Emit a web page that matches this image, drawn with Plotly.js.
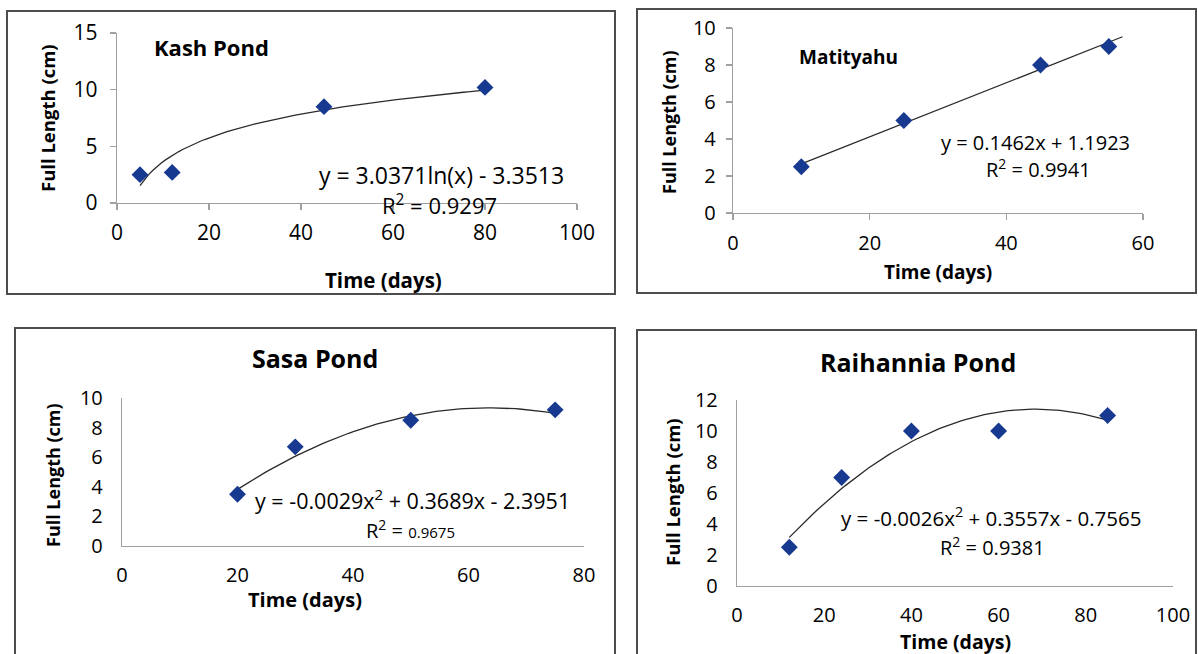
<!DOCTYPE html>
<html><head><meta charset="utf-8">
<script src="https://cdn.plot.ly/plotly-3.0.1.min.js"></script>
<style>html,body{margin:0;padding:0;background:#fff}#chart{width:1198px;height:654px}</style>
</head><body><div id="chart"></div>
<script>
// ---- data ----
const kashDays = [5, 12, 45, 80];
const kashLength = [2.5, 2.7, 8.5, 10.2];
const kashLogFit = [3.0371, -3.3513];      // y = a ln(x) + b
const kashFitRange = [5, 80];

const matDays = [10, 25, 45, 55];
const matLength = [2.5, 5, 8, 9];
const matLinFit = [0.1462, 1.1923];         // y = a x + b
const matFitRange = [10, 57];

const sasaDays = [20, 30, 50, 75];
const sasaLength = [3.5, 6.7, 8.5, 9.2];
const sasaQuadFit = [-0.0029, 0.3689, -2.3951]; // y = a x^2 + b x + c
const sasaFitRange = [20, 75];

const raiDays = [12, 24, 40, 60, 85];
const raiLength = [2.5, 7, 10, 10, 11];
const raiQuadFit = [-0.0026, 0.3557, -0.7565];
const raiFitRange = [12, 85];

const panelTitles = ["Kash Pond", "Matityahu", "Sasa Pond", "Raihannia Pond"];
const eqText = ["y = 3.0371ln(x) - 3.3513", "y = 0.1462x + 1.1923",
                "y = -0.0029x<sup>2</sup> + 0.3689x - 2.3951", "y = -0.0026x<sup>2</sup> + 0.3557x - 0.7565"];
const r2Text = ["R<sup>2</sup> = 0.9297", "R<sup>2</sup> = 0.9941",
                "R<sup>2</sup> = <span style='font-size:15px'>0.9675</span>", "R<sup>2</sup> = 0.9381"];
const xTitle = "Time (days)";
const yTitle = "Full Length (cm)";

// ---- helpers ----
const W = 1198, H = 654;
const px = v => v / W;
const py = v => 1 - v / H;
function curve(range, f) {
  const xs = [], ys = [];
  const n = 80;
  for (let i = 0; i <= n; i++) {
    const x = range[0] + (range[1] - range[0]) * i / n;
    xs.push(x); ys.push(f(x));
  }
  return {xs, ys};
}
const kashCurve = curve(kashFitRange, x => kashLogFit[0] * Math.log(x) + kashLogFit[1]);
const matCurve = curve(matFitRange, x => matLinFit[0] * x + matLinFit[1]);
const sasaCurve = curve(sasaFitRange, x => sasaQuadFit[0] * x * x + sasaQuadFit[1] * x + sasaQuadFit[2]);
const raiCurve = curve(raiFitRange, x => raiQuadFit[0] * x * x + raiQuadFit[1] * x + raiQuadFit[2]);

const markerStyle = {symbol: 'diamond', size: 13, color: '#17398f'};
const lineStyle = {color: '#2b2b2b', width: 1.3};
const FONT = 'Open Sans, Lato, sans-serif';

const traces = [];
const sets = [
  [kashDays, kashLength, kashCurve, 'x', 'y'],
  [matDays, matLength, matCurve, 'x2', 'y2'],
  [sasaDays, sasaLength, sasaCurve, 'x3', 'y3'],
  [raiDays, raiLength, raiCurve, 'x4', 'y4'],
];
sets.forEach(([dx, dy, c, xa, ya]) => {
  traces.push({x: c.xs, y: c.ys, mode: 'lines', line: lineStyle, xaxis: xa, yaxis: ya, hoverinfo: 'skip'});
  traces.push({x: dx, y: dy, mode: 'markers', marker: markerStyle, xaxis: xa, yaxis: ya});
});

function axis(domain, range, dtick, ticks, fsize, standoff, anchor) {
  return {
    domain: domain, range: range, dtick: dtick, tick0: 0,
    showgrid: false, zeroline: false, showline: true, linecolor: '#a0a0a0', linewidth: 1.2,
    ticks: ticks, ticklen: 6, tickcolor: '#a0a0a0', tickwidth: 1.2,
    tickfont: {family: FONT, size: fsize, color: '#000'}, ticklabelstandoff: standoff,
    anchor: anchor, fixedrange: true
  };
}

const layout = {
  width: W, height: H, margin: {l: 0, r: 0, t: 0, b: 0},
  paper_bgcolor: '#fff', plot_bgcolor: 'rgba(0,0,0,0)', showlegend: false,
  font: {family: FONT, color: '#000'},
  xaxis:  axis([px(117), px(577)], [0, 100], 20, 'outside', 21, 5, 'y'),
  yaxis:  axis([py(203), py(33)], [0, 15], 5, 'outside', 21, 8, 'x'),
  xaxis2: axis([px(733), px(1143)], [0, 60], 20, 'outside', 20, 6, 'y2'),
  yaxis2: axis([py(213), py(28)], [0, 10], 2, 'outside', 20, 6, 'x2'),
  xaxis3: axis([px(122), px(584)], [0, 80], 20, '', 20, 11, 'y3'),
  yaxis3: axis([py(546), py(398)], [0, 10], 2, '', 20, 14, 'x3'),
  xaxis4: axis([px(737), px(1173)], [0, 100], 20, '', 20, 11, 'y4'),
  yaxis4: axis([py(586), py(400)], [0, 12], 2, '', 20, 14, 'x4'),
  shapes: [
    [7, 11, 615, 294], [637, 9, 1196, 293], [15, 328, 615, 700], [637, 330, 1196, 700]
  ].map(b => ({type: 'rect', xref: 'paper', yref: 'paper',
    x0: px(b[0]), x1: px(b[2]), y0: py(b[3]), y1: py(b[1]),
    line: {color: '#4d4d4d', width: 2}, fillcolor: 'rgba(0,0,0,0)', layer: 'below'})),
  annotations: []
};

function ann(text, x, y, size, bold, extra) {
  layout.annotations.push(Object.assign({
    text: bold ? '<b>' + text + '</b>' : text, xref: 'paper', yref: 'paper',
    x: px(x), y: py(y), xanchor: 'center', yanchor: 'middle', showarrow: false,
    font: {family: FONT, size: size, color: '#000'}
  }, extra || {}));
}
// panel titles
ann(panelTitles[0], 152, 47, 22, true, {xanchor: 'left'});
ann(panelTitles[1], 797, 57, 19, true, {xanchor: 'left'});
ann(panelTitles[2], 315, 358, 25, true);
ann(panelTitles[3], 918, 362, 25, true);
// equations
ann(eqText[0], 441, 175, 23, false);
ann(r2Text[0], 440, 204, 22, false);
ann(eqText[1], 1035, 142, 20, false);
ann(r2Text[1], 1038, 169, 20, false);
ann(eqText[2], 412, 499, 21.5, false);
ann(r2Text[2], 410, 529, 20, false);
ann(eqText[3], 991, 517, 20.5, false);
ann(r2Text[3], 992, 546, 20, false);
// axis titles
ann(xTitle, 383, 280, 20.5, true);
ann(yTitle, 47, 118, 18.5, true, {textangle: -90});
ann(xTitle, 938, 272, 19, true);
ann(yTitle, 669, 122, 18, true, {textangle: -90});
ann(xTitle, 305, 599, 20, true);
ann(yTitle, 53, 475, 18, true, {textangle: -90});
ann(xTitle, 955, 641, 19.5, true);
ann(yTitle, 672, 492, 18.5, true, {textangle: -90});

Plotly.newPlot('chart', traces, layout, {staticPlot: true, displayModeBar: false});
</script>
</body></html>
